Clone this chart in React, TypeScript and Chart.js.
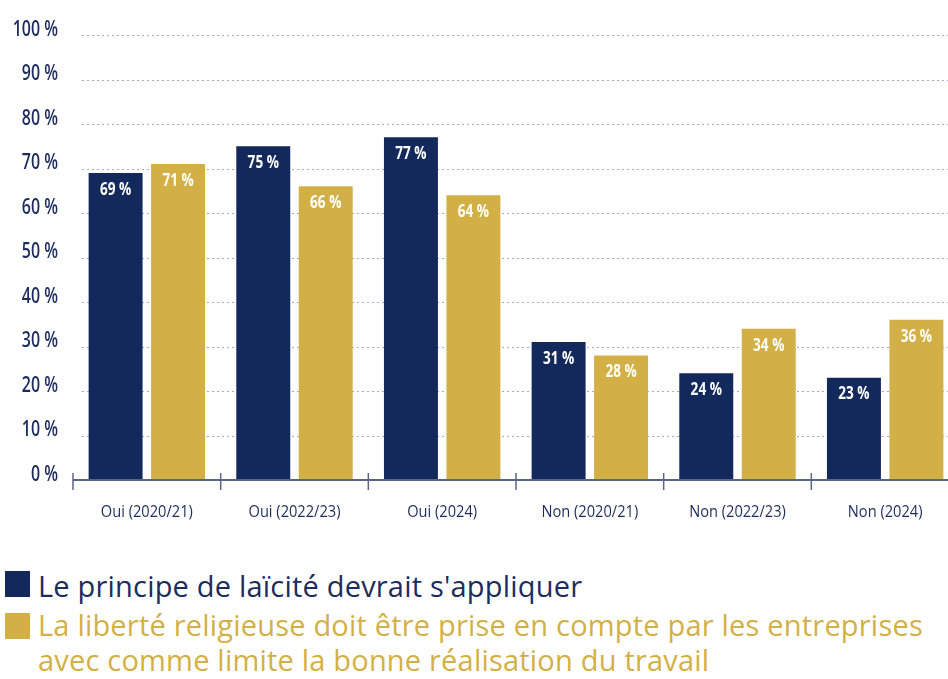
import React, { useEffect, useRef } from "react";
import { Chart, registerables } from "chart.js";

Chart.register(...registerables);

const categories = ["Oui (2020/21)", "Oui (2022/23)", "Oui (2024)", "Non (2020/21)", "Non (2022/23)", "Non (2024)"];
const laiciteValues = [69, 75, 77, 31, 24, 23];
const liberteValues = [71, 66, 64, 28, 34, 36];
const seriesLabels = [
  "Le principe de laïcité devrait s'appliquer",
  "La liberté religieuse doit être prise en compte par les entreprises avec comme limite la bonne réalisation du travail",
];
const yTicks = [0, 10, 20, 30, 40, 50, 60, 70, 80, 90, 100];

const NAVY = "#13285b";
const GOLD = "#d3b045";
const TEXT_NAVY = "#1d2c5e";
const FONT = "'Open Sans', 'Noto Sans', sans-serif";

function drawCondensed(ctx: any, text: string, x: number, y: number, align: "left" | "right" | "center", sx: number) {
  ctx.save();
  ctx.translate(x, y);
  ctx.scale(sx, 1);
  ctx.textAlign = align;
  ctx.textBaseline = "middle";
  ctx.fillText(text, 0, 0);
  ctx.restore();
}

const gridPlugin = {
  id: "customGrid",
  beforeDatasetsDraw(chart: any) {
    const ctx = chart.ctx;
    const y = chart.scales.y;
    ctx.save();
    ctx.strokeStyle = "#a3abc6";
    ctx.lineWidth = 1;
    ctx.setLineDash([2, 3]);
    yTicks.forEach((v) => {
      if (v === 0) return;
      const py = Math.round(y.getPixelForValue(v)) + 0.5;
      ctx.beginPath();
      ctx.moveTo(chart.chartArea.left + 9, py);
      ctx.lineTo(chart.chartArea.right, py);
      ctx.stroke();
    });
    ctx.restore();
  },
};

const labelsPlugin = {
  id: "customLabels",
  afterDraw(chart: any) {
    const ctx = chart.ctx;
    const x = chart.scales.x;
    const y = chart.scales.y;
    const y0 = y.getPixelForValue(0);

    ctx.save();
    ctx.strokeStyle = "#5a6488";
    ctx.lineWidth = 2;
    ctx.beginPath();
    ctx.moveTo(chart.chartArea.left, y0);
    ctx.lineTo(chart.chartArea.right, y0);
    ctx.stroke();
    ctx.lineWidth = 1.5;
    const n = chart.data.labels.length;
    for (let i = 0; i <= n; i++) {
      const px = x.left + (x.width * i) / n;
      ctx.beginPath();
      ctx.moveTo(px, y0 - 7);
      ctx.lineTo(px, y0 + 10);
      ctx.stroke();
    }
    ctx.restore();

    ctx.save();
    ctx.fillStyle = TEXT_NAVY;
    ctx.font = `600 21px ${FONT}`;
    yTicks.forEach((v) => {
      drawCondensed(ctx, `${v} %`, 58, y.getPixelForValue(v) - 5, "right", 0.76);
    });
    ctx.font = `500 17px ${FONT}`;
    chart.data.labels.forEach((lab: string, i: number) => {
      drawCondensed(ctx, lab, x.getPixelForValue(i), y0 + 32, "center", 0.86);
    });
    ctx.fillStyle = "#ffffff";
    ctx.font = `bold 17px ${FONT}`;
    chart.data.datasets.forEach((ds: any, di: number) => {
      const meta = chart.getDatasetMeta(di);
      meta.data.forEach((bar: any, i: number) => {
        drawCondensed(ctx, `${ds.data[i]} %`, bar.x, bar.y + 17, "center", 0.8);
      });
    });
    ctx.restore();
  },
};

export default function App() {
  const canvasRef = useRef<HTMLCanvasElement | null>(null);

  useEffect(() => {
    if (!canvasRef.current) return;
    const chart = new Chart(canvasRef.current, {
      type: "bar",
      data: {
        labels: categories,
        datasets: [
          { label: seriesLabels[0], data: laiciteValues, backgroundColor: NAVY, barPercentage: 0.864, categoryPercentage: 0.846 },
          { label: seriesLabels[1], data: liberteValues, backgroundColor: GOLD, barPercentage: 0.864, categoryPercentage: 0.846 },
        ],
      },
      options: {
        animation: false,
        responsive: true,
        maintainAspectRatio: false,
        layout: { padding: { top: 35, right: 1, bottom: 0, left: 0 } },
        plugins: { legend: { display: false }, tooltip: { enabled: false } },
        scales: {
          x: {
            grid: { display: false },
            border: { display: false },
            ticks: { display: false },
            afterFit: (s: any) => {
              s.height = 60;
            },
          },
          y: {
            min: 0,
            max: 100,
            grid: { display: false },
            border: { display: false },
            ticks: { display: false },
            afterFit: (s: any) => {
              s.width = 73;
            },
          },
        },
      },
      plugins: [gridPlugin, labelsPlugin],
    });
    return () => chart.destroy();
  }, []);

  const sq = (top: number, color: string) => (
    <div style={{ position: "absolute", left: 5, top, width: 25, height: 26, background: color }} />
  );

  return (
    <div style={{ position: "fixed", left: 0, top: 0, width: 948, height: 679, overflow: "hidden", background: "#fff" }}>
      <div style={{ position: "absolute", left: 0, top: 0, width: 960, height: 540 }}>
        <canvas ref={canvasRef} />
      </div>
      {sq(571, NAVY)}
      {sq(613, GOLD)}
      <div
        style={{
          position: "absolute",
          left: 38,
          top: 568,
          width: 910,
          fontFamily: FONT,
          fontSize: 29,
          fontWeight: 500,
          letterSpacing: "0.2px",
          lineHeight: "35px",
          whiteSpace: "nowrap",
        }}
      >
        <div style={{ color: TEXT_NAVY, marginBottom: 4 }}>{seriesLabels[0]}</div>
        <div style={{ color: GOLD }}>
          La liberté religieuse doit être prise en compte par les entreprises
          <br />
          avec comme limite la bonne réalisation du travail
        </div>
      </div>
    </div>
  );
}
